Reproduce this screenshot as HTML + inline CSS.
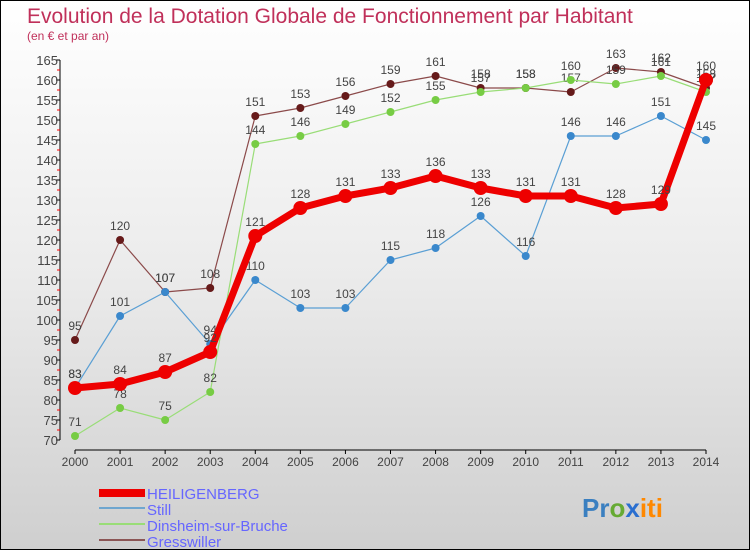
<!DOCTYPE html>
<html><head><meta charset="utf-8"><style>
body{margin:0}
#c{width:750px;height:550px;position:relative;overflow:hidden;box-sizing:border-box;border:1px solid #000;background:linear-gradient(#fff 0%,#ebebeb 50%,#cfcfcf 100%);font-family:"Liberation Sans",sans-serif}
</style></head><body>
<div id="c">
<svg width="750" height="550" id="svg" style="position:absolute;left:-1px;top:-1px">
<text x="27" y="23" font-size="21" fill="#c0305a">Evolution de la Dotation Globale de Fonctionnement par Habitant</text>
<text x="27" y="40" font-size="12" fill="#c0305a">(en € et par an)</text>
<g id="axes"></g><g id="series"></g>
<g font-size="15" fill="#6666ff">
<rect x="99" y="489" width="46" height="8" fill="#e00"/>
<text x="147" y="499">HEILIGENBERG</text>
<rect x="99" y="507" width="46" height="2" fill="#6fa6cf"/>
<text x="147" y="515">Still</text>
<rect x="99" y="523" width="46" height="2" fill="#99dd77"/>
<text x="147" y="531">Dinsheim-sur-Bruche</text>
<rect x="99" y="539" width="46" height="2" fill="#8b5555"/>
<text x="147" y="547">Gresswiller</text>
</g>
<text x="582" y="517" font-size="26" font-weight="bold"><tspan fill="#3a7fc0">Pr</tspan><tspan fill="#6a3">o</tspan><tspan fill="#2a6fd0">x</tspan><tspan fill="#f80">iti</tspan></text>
</svg>
</div>
<script>
const years=[2000,2001,2002,2003,2004,2005,2006,2007,2008,2009,2010,2011,2012,2013,2014];
const heiligenberg=[83,84,87,92,121,128,131,133,136,133,131,131,128,129,160];
const still=[83,101,107,94,110,103,103,115,118,126,116,146,146,151,145];
const dinsheim=[71,78,75,82,144,146,149,152,155,157,158,160,159,161,157];
const gresswiller=[95,120,107,108,151,153,156,159,161,158,158,157,163,162,158];
const yTicks=[70,75,80,85,90,95,100,105,110,115,120,125,130,135,140,145,150,155,160,165];
const NS="http://www.w3.org/2000/svg";
const xs=i=>75+i*(706-75)/(years.length-1);
const ys=v=>440-(v-70)*4;
function mk(t,a,p){const e=document.createElementNS(NS,t);for(const k in a)e.setAttribute(k,a[k]);p.appendChild(e);return e;}
const ax=document.getElementById('axes');
let l=mk('line',{x1:60,y1:ys(165),x2:60,y2:ys(70),stroke:'#000'},ax);


l=mk('line',{x1:75,y1:450,x2:706,y2:450,stroke:'#000'},ax);


yTicks.forEach(v=>{
 const t=mk('line',{x1:56,y1:ys(v),x2:60,y2:ys(v),stroke:'#000'},ax);
 
 
 const m=mk('line',{x1:57,y1:ys(v+2.5),x2:60,y2:ys(v+2.5),stroke:'#f00'},ax);
 if(v==165)m.remove();
 const tx=mk('text',{x:58,y:ys(v)+5,'font-size':13,fill:'#444','text-anchor':'end'},ax);
 tx.textContent=v;
 
 
});
years.forEach((y,i)=>{
 mk('line',{x1:xs(i),y1:450,x2:xs(i),y2:454,stroke:'#000'},ax);
 const tx=mk('text',{x:xs(i),y:466,'font-size':12,fill:'#444','text-anchor':'middle'},ax);
 tx.textContent=y;
 
 
});
const sg=document.getElementById('series');
function draw(name,data,color,w,r,dot){
 const g=mk('g',{},sg);
 
 
 const p=mk('polyline',{points:data.map((v,i)=>xs(i)+','+ys(v)).join(' '),fill:'none',stroke:color,'stroke-width':w,'stroke-linejoin':'round'},g);
 
 
 data.forEach((v,i)=>{
  const c=mk('circle',{cx:xs(i),cy:ys(v),r:r,fill:dot},g);
  
  
  const t=mk('text',{x:xs(i),y:ys(v)-10,'font-size':12,fill:'#444','text-anchor':'middle'},g);
  t.textContent=v;
  
  
 });
}
draw('gresswiller',gresswiller,'#8b4a4a',1.2,4,'#661a1a');
draw('dinsheim',dinsheim,'#99dd77',1.2,4,'#77cc44');
draw('still',still,'#5a9fd4',1.2,4,'#3a88cc');
draw('heiligenberg',heiligenberg,'#ee0000',7,7,'#ee0000');
</script>
</body></html>
